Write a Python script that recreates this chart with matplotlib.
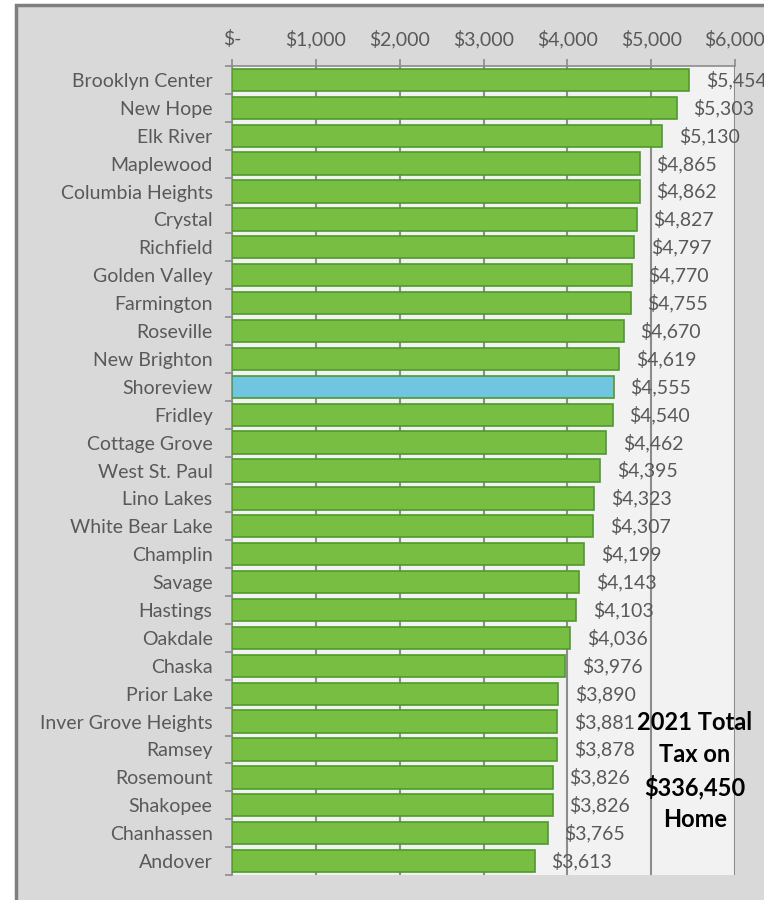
import matplotlib.pyplot as plt
from matplotlib.patches import Rectangle
from matplotlib.ticker import FuncFormatter
import numpy as np

cities = ["Brooklyn Center", "New Hope", "Elk River", "Maplewood", "Columbia Heights",
          "Crystal", "Richfield", "Golden Valley", "Farmington", "Roseville",
          "New Brighton", "Shoreview", "Fridley", "Cottage Grove", "West St. Paul",
          "Lino Lakes", "White Bear Lake", "Champlin", "Savage", "Hastings",
          "Oakdale", "Chaska", "Prior Lake", "Inver Grove Heights", "Ramsey",
          "Rosemount", "Shakopee", "Chanhassen", "Andover"]
tax = [5454, 5303, 5130, 4865, 4862, 4827, 4797, 4770, 4755, 4670,
       4619, 4555, 4540, 4462, 4395, 4323, 4307, 4199, 4143, 4103,
       4036, 3976, 3890, 3881, 3878, 3826, 3826, 3765, 3613]
highlight = "Shoreview"
x_ticks = [0, 1000, 2000, 3000, 4000, 5000, 6000]

plt.rcParams['font.family'] = ['Lato', 'DejaVu Sans']

fig = plt.figure(figsize=(7.64, 9), dpi=100)
fig.patch.set_facecolor("white")
W, H = 764, 900
# outer gray chart area with dark border
fig.patches.append(Rectangle((16 / W, -0.1), 1.2, 1 - 5 / H + 0.1, transform=fig.transFigure,
                             facecolor="#D9D9D9", edgecolor="#7F7F7F", linewidth=2.5, zorder=-5))

ax = fig.add_axes([232 / W, 1 - 875 / H, (735 - 232) / W, (875 - 66) / H])
ax.set_facecolor("#F2F2F2")

y = np.arange(len(cities))
colors = ["#70C6E0" if c == highlight else "#77BE43" for c in cities]
ax.barh(y, tax, height=0.8, color=colors, edgecolor="#4E9A2A", linewidth=1.2, zorder=3)

for yi, v in zip(y, tax):
    ax.annotate(f"${v:,}", (v, yi), xytext=(12, 0), textcoords="offset points",
                va="center", ha="left", fontsize=14, color="#595959", zorder=5)

ax.set_xlim(0, 6000)
ax.set_ylim(len(cities) - 0.5, -0.5)
ax.xaxis.tick_top()
ax.set_xticks(x_ticks)
ax.xaxis.set_major_formatter(FuncFormatter(lambda v, p: "$-" if v == 0 else f"${v:,.0f}"))
ax.grid(axis="x", color="#8C8C8C", linewidth=1.5, zorder=1)
ax.set_axisbelow(True)

ax.set_yticks(y)
ax.set_yticklabels(cities)
ax.set_yticks(np.arange(len(cities) + 1) - 0.5, minor=True)
ax.tick_params(axis="y", which="major", length=0, pad=14, labelsize=14, labelcolor="#595959")
ax.tick_params(axis="y", which="minor", length=5, color="#8C8C8C", width=1.2)
ax.tick_params(axis="x", which="major", length=5, color="#8C8C8C", width=1.2, pad=8,
               labelsize=14, labelcolor="#595959")

for s in ["right", "bottom"]:
    ax.spines[s].set_visible(False)
for s in ["top", "left"]:
    ax.spines[s].set_color("#8C8C8C")
    ax.spines[s].set_linewidth(1.2)

fig.text(695 / W, 1 - 771 / H, "2021 Total\nTax on\n$336,450\nHome", ha="center", va="center",
         fontsize=17, fontweight="bold", color="black", linespacing=1.45)

fig.savefig("out.png", dpi=100)
